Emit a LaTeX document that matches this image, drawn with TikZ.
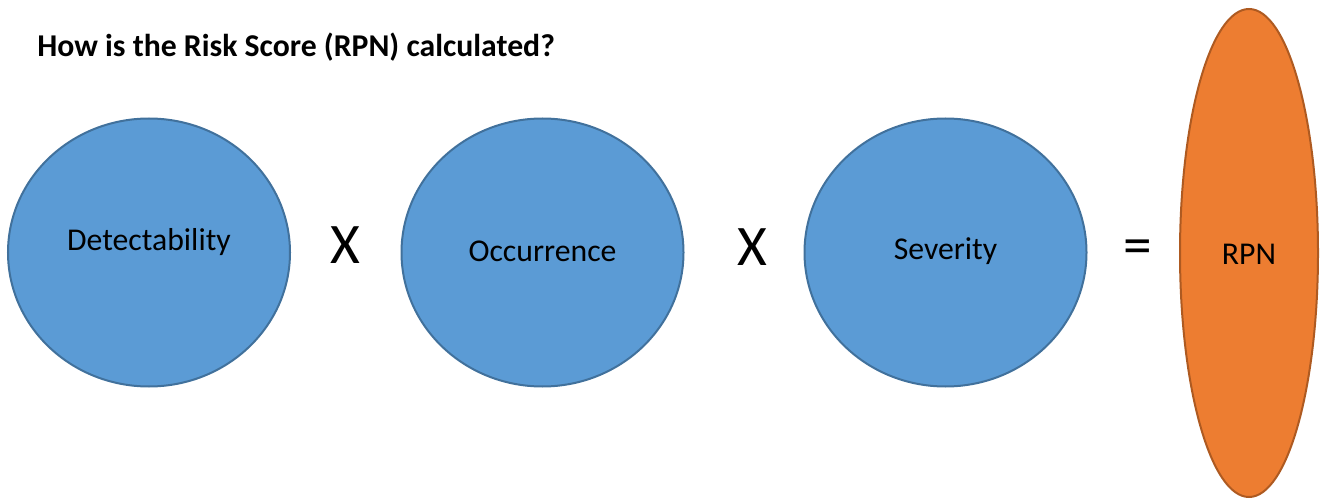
\documentclass[tikz,border=0pt]{standalone}
\usepackage{fontspec}
\setmainfont{Carlito}
\usetikzlibrary{shapes.geometric}
\newdimen\px \px=0.75pt
\definecolor{blueFill}{HTML}{5B9BD5}
\definecolor{blueLine}{HTML}{41719C}
\definecolor{orangeFill}{HTML}{ED7D31}
\definecolor{orangeLine}{HTML}{AE5A21}
\tikzset{
  factor/.style={ellipse, draw=blueLine, fill=blueFill, line width=1.5pt, inner sep=0pt,
    minimum width=282\px, minimum height=268\px},
  result/.style={ellipse, draw=orangeLine, fill=orangeFill, line width=1.5pt, inner sep=0pt,
    minimum width=138\px, minimum height=488\px},
  txt/.style={inner sep=0pt, font=\fontsize{23.8pt}{28pt}\selectfont, text=black},
  op/.style={inner sep=0pt, font=\fontsize{43pt}{50pt}\selectfont, text=black},
  title/.style={inner sep=0pt, font=\fontsize{23.8pt}{28pt}\selectfont\bfseries, text=black, anchor=base west}
}
\begin{document}
\begin{tikzpicture}[x=0.75pt,y=-0.75pt]
\useasboundingbox (0,0) rectangle (1321,499);
\node[title] (title) at (37,57) {How is the Risk Score (RPN) calculated?};
\node[factor] (det) at (149,252.5) {};
\node[txt] (detT) at (149,242) {Detectability};
\node[factor] (occ) at (542.5,252.5) {};
\node[txt] (occT) at (542.5,251) {Occurrence};
\node[factor] (sev) at (945.5,252.5) {};
\node[txt] (sevT) at (945.5,251) {Severity};
\node[result] (rpn) at (1249,253) {};
\node[txt] (rpnT) at (1249,254) {RPN};
\node[op] (x1) at (345,245) {X};
\node[op] (x2) at (752,247) {X};
\node[op] (eq) at (1138,252) {=};
\end{tikzpicture}
\end{document}
